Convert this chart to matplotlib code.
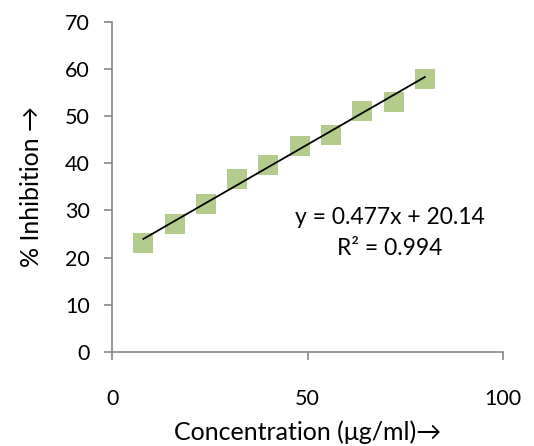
import numpy as np
import matplotlib
matplotlib.use("Agg")
import matplotlib.pyplot as plt

# 데이터
conc = [8, 16, 24, 32, 40, 48, 56, 64, 72, 80]
inhibition = [23.0, 27.2, 31.4, 36.6, 39.7, 43.6, 46.0, 51.0, 53.0, 57.9]
slope, intercept = 0.477, 20.14
r2 = 0.994

plt.rcParams['font.family'] = ['Lato', 'DejaVu Sans']

fig = plt.figure(figsize=(5.34, 4.46), dpi=100)
ax = fig.add_axes([0.21, 0.211, 0.732, 0.740])

ax.plot(conc, inhibition, linestyle='none', marker='s', markersize=14.5,
        color='#b3cc8c', markeredgewidth=0)

# 추세선
xs = np.array([conc[0], conc[-1]])
ax.plot(xs, slope * xs + intercept, color='black', linewidth=1.3)

ax.text(71, 28.6, f"y = {slope}x + {intercept}", ha='center', va='center', fontsize=16.5)
ax.text(71, 21.9, f"R² = {r2}", ha='center', va='center', fontsize=16.5)

ax.set_xlim(0, 100)
ax.set_ylim(0, 70)
ax.set_xticks([0, 50, 100])
ax.set_yticks(range(0, 71, 10))

for s in ['top', 'right']:
    ax.spines[s].set_visible(False)
for s in ['left', 'bottom']:
    ax.spines[s].set_color('#868686')
    ax.spines[s].set_linewidth(1.2)

ax.tick_params(axis='both', direction='out', length=6, width=1.2, color='#868686',
               labelsize=15.5, labelcolor='black')
ax.tick_params(axis='x', pad=21)
ax.tick_params(axis='y', pad=10)

ax.set_xlabel("Concentration (μg/ml)→", fontsize=18, labelpad=8)
ax.set_ylabel("% Inhibition →", fontsize=18, labelpad=16)

fig.savefig("out.png", dpi=100)
